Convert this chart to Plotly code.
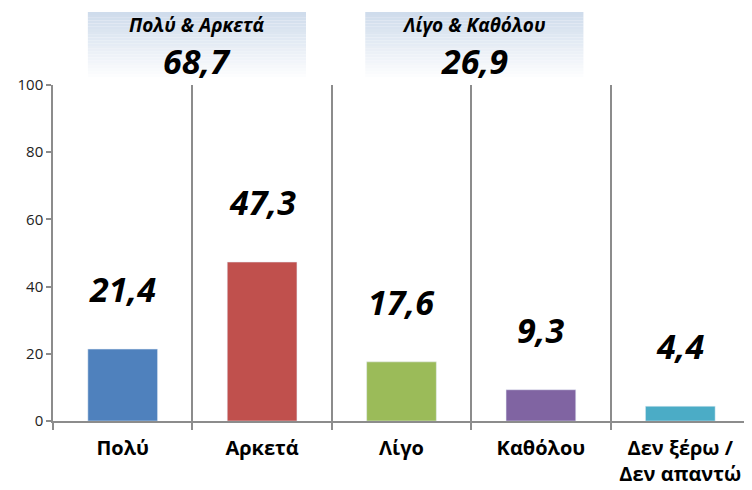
import plotly.graph_objects as go

categorias = ["Πολύ", "Αρκετά", "Λίγο", "Καθόλου", "Δεν ξέρω /<br>Δεν απαντώ"]
valores = [21.4, 47.3, 17.6, 9.3, 4.4]
colores = ["#4F81BD", "#C0504D", "#9BBB59", "#8064A2", "#4BACC6"]

grupos = ["Πολύ & Αρκετά", "Λίγο & Καθόλου"]
sumas = [68.7, 26.9]

y_ticks = [0, 20, 40, 60, 80, 100]

FUENTE = "Open Sans"
GRIS = "#8C8C8C"


def fmt(v):
    return f"{v:.1f}".replace(".", ",")


fig = go.Figure()
fig.add_trace(
    go.Bar(
        x=categorias,
        y=valores,
        marker_color=colores,
        width=0.5,
        showlegend=False,
        hoverinfo="skip",
    )
)

# etiquetas de valor sobre las barras
for cat, val in zip(categorias, valores):
    fig.add_annotation(
        x=cat,
        y=val,
        text=f"<b><i>{fmt(val)}</i></b>",
        showarrow=False,
        yanchor="bottom",
        yshift=35,
        font=dict(family=FUENTE, size=34, color="black"),
    )

# cajas de totales con degradado
cajas_x = [(0.050, 0.363), (0.448, 0.761)]
y0, y1 = 1.015, 1.217
n = 24
for (x0, x1), titulo, total in zip(cajas_x, grupos, sumas):
    for i in range(n):
        t = i / (n - 1)
        r = int(207 + (255 - 207) * t)
        g = int(220 + (255 - 220) * t)
        b = int(236 + (255 - 236) * t)
        fig.add_shape(
            type="rect",
            xref="paper",
            yref="paper",
            x0=x0,
            x1=x1,
            y1=y1 - (y1 - y0) * i / n,
            y0=y1 - (y1 - y0) * (i + 1) / n,
            fillcolor=f"rgb({r},{g},{b})",
            line_width=0,
            layer="below",
        )
    xc = (x0 + x1) / 2
    fig.add_annotation(
        xref="paper", yref="paper", x=xc, y=1.18,
        xanchor="center", yanchor="middle",
        text=f"<b><i>{titulo}</i></b>", showarrow=False,
        font=dict(family=FUENTE, size=19, color="black"),
    )
    fig.add_annotation(
        xref="paper", yref="paper", x=xc, y=1.072,
        xanchor="center", yanchor="middle",
        text=f"<b><i>{fmt(total)}</i></b>", showarrow=False,
        font=dict(family=FUENTE, size=34, color="black"),
    )

fig.update_layout(
    width=752,
    height=490,
    margin=dict(l=43, r=10, t=77, b=77),
    paper_bgcolor="white",
    plot_bgcolor="white",
    bargap=0.5,
    xaxis=dict(
        type="category",
        range=[-0.5, 4.5],
        tickson="boundaries",
        ticks="outside",
        ticklen=7,
        tickcolor=GRIS,
        tickwidth=1.5,
        showgrid=True,
        gridcolor=GRIS,
        gridwidth=1.5,
        showline=True,
        linecolor=GRIS,
        linewidth=1.5,
        ticklabelstandoff=8,
        tickfont=dict(family=FUENTE, size=20, color="black", weight="bold"),
    ),
    yaxis=dict(
        range=[0, 100],
        tickvals=y_ticks,
        ticks="outside",
        ticklen=5,
        tickcolor=GRIS,
        tickwidth=1.5,
        showgrid=False,
        zeroline=False,
        showline=True,
        linecolor=GRIS,
        linewidth=1.5,
        tickfont=dict(family=FUENTE, size=15, color="#222222"),
    ),
)

fig.write_html("out.html")
